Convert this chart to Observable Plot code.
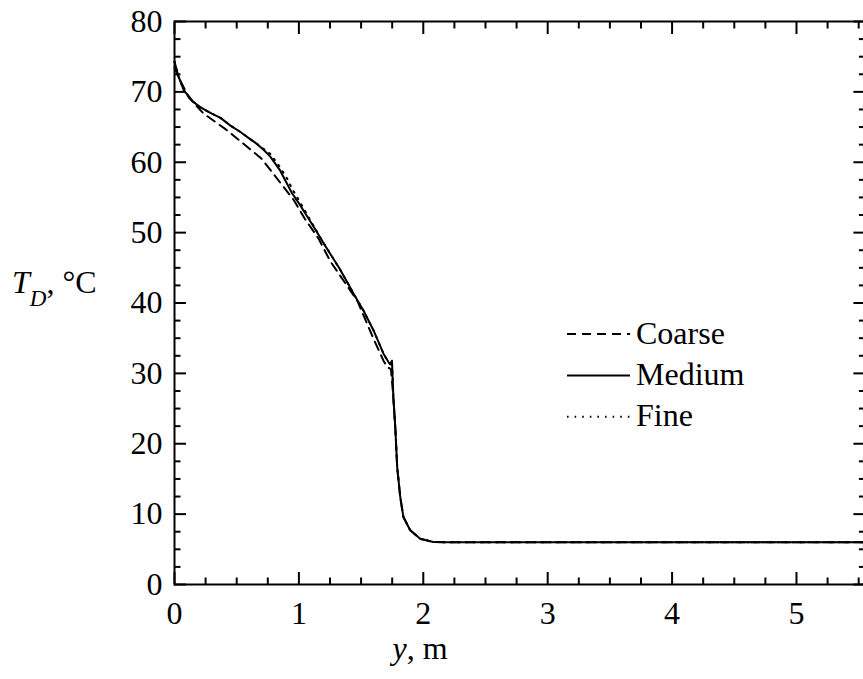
<!DOCTYPE html>
<html>
<head>
<meta charset="utf-8">
<script src="https://cdn.jsdelivr.net/npm/d3@7"></script>
<script src="https://cdn.jsdelivr.net/npm/@observablehq/plot@0.6"></script>
<style>
  html, body { margin: 0; padding: 0; background: #fff; overflow: hidden; }
  #chart svg { display: block; }
</style>
</head>
<body>
<div id="chart"></div>
<script>
// ---- data ----
const mediumY = [0, 0.03, 0.075, 0.15, 0.21, 0.3, 0.37, 0.45, 0.53, 0.6, 0.67, 0.72, 0.77, 0.85, 0.945, 1.01, 1.12, 1.22, 1.33, 1.39, 1.45, 1.52, 1.6, 1.68, 1.72, 1.735, 1.748, 1.76, 1.775, 1.79, 1.815, 1.84, 1.895, 1.975, 2.08, 2.2, 3, 4, 5, 5.6];
const mediumT = [74.3, 72.3, 70.2, 68.6, 67.8, 66.9, 66.3, 65.2, 64.3, 63.4, 62.5, 61.7, 60.8, 58.8, 55.6, 53.9, 50.8, 47.9, 44.8, 42.9, 41.0, 38.9, 36.1, 32.8, 31.6, 31.3, 31.8, 26.5, 22.3, 16.7, 12.4, 9.6, 7.7, 6.5, 6.05, 6.0, 6.0, 6.0, 6.0, 6.0];

const coarseY = [0, 0.035, 0.115, 0.235, 0.41, 0.557, 0.7, 0.745, 0.85, 0.96, 1.05, 1.16, 1.25, 1.47, 1.6, 1.68, 1.71, 1.74, 1.755, 1.775, 1.79, 1.815, 1.84, 1.895, 1.975, 2.08, 2.2, 3, 4, 5, 5.6];
const coarseT = [73.5, 72.0, 69.2, 66.9, 64.7, 62.6, 60.5, 59.5, 57.1, 54.6, 51.9, 49.1, 46.0, 40.3, 34.9, 31.8, 30.9, 30.6, 27.5, 22.3, 16.7, 12.4, 9.6, 7.7, 6.5, 6.05, 6.0, 6.0, 6.0, 6.0, 6.0];

const fineY = [0, 0.03, 0.075, 0.15, 0.21, 0.3, 0.37, 0.45, 0.53, 0.6, 0.67, 0.77, 0.84, 0.905, 0.95, 1.01, 1.12, 1.22, 1.33, 1.39, 1.45, 1.52, 1.6, 1.68, 1.72, 1.735, 1.748, 1.76, 1.775, 1.79, 1.815, 1.84, 1.895, 1.975, 2.08, 2.2, 3, 4, 5, 5.6];
const fineT = [74.3, 72.3, 70.2, 68.6, 67.8, 66.9, 66.3, 65.2, 64.3, 63.4, 62.5, 61.2, 59.5, 57.7, 56.1, 54.3, 50.9, 47.9, 44.8, 42.9, 41.0, 38.9, 36.1, 32.8, 31.6, 31.3, 31.8, 26.5, 22.3, 16.7, 12.4, 9.6, 7.7, 6.5, 6.05, 6.0, 6.0, 6.0, 6.0, 6.0];

const xMajor = [0, 1, 2, 3, 4, 5];
const xMinor = [0.25, 0.5, 0.75, 1.25, 1.5, 1.75, 2.25, 2.5, 2.75, 3.25, 3.5, 3.75, 4.25, 4.5, 4.75, 5.25, 5.5];
const yMajor = [0, 10, 20, 30, 40, 50, 60, 70, 80];
const yMinor = [2.5, 5, 7.5, 12.5, 15, 17.5, 22.5, 25, 27.5, 32.5, 35, 37.5, 42.5, 45, 47.5, 52.5, 55, 57.5, 62.5, 65, 67.5, 72.5, 75, 77.5];

const seriesNames = ["Coarse", "Medium", "Fine"];
const dashes = {Coarse: "9,6", Medium: null, Fine: "1.6,6"};

const rows = [];
coarseY.forEach((y, i) => rows.push({series: "Coarse", y, T: coarseT[i]}));
mediumY.forEach((y, i) => rows.push({series: "Medium", y, T: mediumT[i]}));
fineY.forEach((y, i) => rows.push({series: "Fine", y, T: fineT[i]}));

const FONT = "'Liberation Serif', 'Times New Roman', serif";
const FS = 32;

const lineMarks = seriesNames.map(s => Plot.line(rows.filter(r => r.series === s), {
  x: "y", y: "T", stroke: "#000", strokeWidth: 2,
  strokeDasharray: dashes[s], curve: "linear"
}));

const tickStyle = {stroke: "#000", strokeWidth: 2, tickFormat: () => "", label: null};

const plot = Plot.plot({
  width: 870,
  height: 679,
  marginLeft: 174,
  marginRight: 5.6,
  marginTop: 21,
  marginBottom: 95,
  style: {fontFamily: FONT, fontSize: FS + "px", color: "#000", background: "#fff"},
  x: {domain: [0, 5.55], label: null},
  y: {domain: [0, 80], label: null},
  marks: [
    ...lineMarks,
    // inward ticks on all four sides
    Plot.axisX(xMajor, {anchor: "bottom", tickSize: -12, ...tickStyle}),
    Plot.axisX(xMinor, {anchor: "bottom", tickSize: -6.5, ...tickStyle}),
    Plot.axisX(xMajor, {anchor: "top", tickSize: -12, ...tickStyle}),
    Plot.axisX(xMinor, {anchor: "top", tickSize: -6.5, ...tickStyle}),
    Plot.axisY(yMajor, {anchor: "left", tickSize: -12, ...tickStyle}),
    Plot.axisY(yMinor, {anchor: "left", tickSize: -6.5, ...tickStyle}),
    Plot.axisY(yMajor, {anchor: "right", tickSize: -12, ...tickStyle}),
    Plot.axisY(yMinor, {anchor: "right", tickSize: -6.5, ...tickStyle}),
    // tick labels
    Plot.axisX(xMajor, {anchor: "bottom", tickSize: 0, tickPadding: 17, label: null, fontSize: FS, fill: "#000", tickFormat: d3.format("d")}),
    Plot.axisY(yMajor, {anchor: "left", tickSize: 0, tickPadding: 12, label: null, fontSize: FS, fill: "#000", tickFormat: d3.format("d")}),
    Plot.frame({stroke: "#000", strokeWidth: 2})
  ]
});
plot.style.maxWidth = "none";

document.getElementById("chart").appendChild(plot);

// axis titles and legend (rich text)
const svg = d3.select(plot);

const xt = svg.append("text")
  .attr("x", 420).attr("y", 659)
  .attr("text-anchor", "middle")
  .style("font-family", FONT).style("font-size", FS + "px").attr("fill", "#000");
xt.append("tspan").style("font-style", "italic").text("y");
xt.append("tspan").text(", m");

const yt = svg.append("text")
  .attr("x", 12).attr("y", 293)
  .attr("text-anchor", "start")
  .style("font-family", FONT).style("font-size", FS + "px").attr("fill", "#000");
yt.append("tspan").style("font-style", "italic").text("T");
yt.append("tspan").style("font-style", "italic").style("font-size", "23px").attr("dy", 13).text("D");
yt.append("tspan").attr("dy", -13).text(", °C");

const legend = svg.append("g");
seriesNames.forEach((s, i) => {
  const cy = 334 + i * 41.4;
  legend.append("line")
    .attr("x1", 567).attr("x2", 630).attr("y1", cy).attr("y2", cy)
    .attr("stroke", "#000").attr("stroke-width", 2)
    .attr("stroke-dasharray", dashes[s]);
  legend.append("text")
    .attr("x", 636).attr("y", cy + 9.5)
    .attr("text-anchor", "start")
    .style("font-family", FONT).style("font-size", FS + "px").attr("fill", "#000")
    .text(s);
});
</script>
</body>
</html>
